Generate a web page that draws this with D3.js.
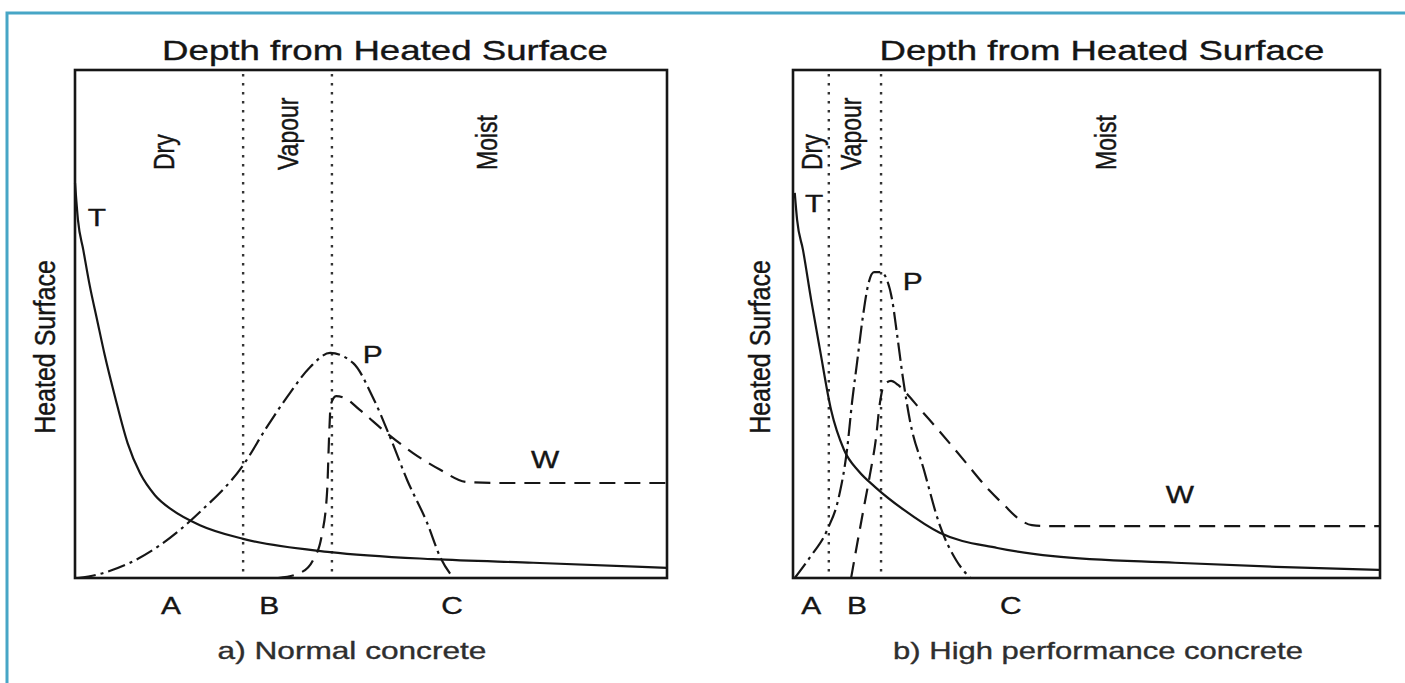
<!DOCTYPE html>
<html lang="en">
  <head>
    <meta charset="utf-8" />
    <title>Depth from Heated Surface</title>
    <script type="text/javascript" src="https://d3js.org/d3.v7.min.js"></script>
    <style>
      body { margin: 0; background: #fff; }
      text { font-family: "Liberation Sans", Arial, sans-serif; fill: #151515; stroke: #151515; stroke-width: 0.35; }
    </style>
  </head>
  <body>
    <script type="text/javascript">
      // Page size and frame
      const WIDTH = 1405;
      const HEIGHT = 683;
      const FRAME_COLOR = "#47a6c6";
      const INK = "#161616";

      // Depth (0-100 across the box) and value (0-100 up the box)
      // a) Normal concrete
      const normalT = [[0, 77.8], [0.5, 70.5], [1.4, 64.6], [2.5, 57.5], [3.7, 51.0], [5.0, 44.0],
        [6.8, 35.5], [8.9, 26.5], [11.0, 20.6], [13.5, 16.3], [16.4, 13.4], [21.1, 10.4],
        [28.4, 7.7], [43.1, 5.1], [60.5, 3.7], [77.4, 3.0], [100, 2.0]];
      const normalP = [[0.5, 0], [4.2, 0.8], [9.3, 3.0], [14.4, 6.5], [21.1, 13.0], [28.4, 22.2],
        [32.4, 29.7], [36.3, 36.4], [39.7, 41.5], [43.1, 44.3], [47.0, 42.3], [50.3, 35.6],
        [53.2, 27.8], [56.1, 19.3], [59.5, 10.8], [61.7, 4.1], [63.9, 0]];
      const normalW = [[34.3, 0], [38.0, 1.0], [40.2, 3.5], [41.7, 8.5], [42.6, 17.3], [42.9, 27.2],
        [43.2, 34.1], [44.1, 35.8], [45.6, 35.4], [48.1, 33.1], [52.7, 28.5], [57.1, 24.6],
        [61.7, 21.3], [66.2, 18.9], [71.8, 18.7], [100, 18.7]];
      const normalZones = [28.4, 43.4];

      // b) High performance concrete
      const hpcT = [[0.3, 75.8], [0.7, 70.5], [1.7, 64.6], [3.1, 54.7], [4.6, 44.9], [6.5, 33.0],
        [8.7, 25.2], [11.2, 21.0], [14.0, 17.9], [18.9, 13.4], [25.0, 8.9], [34.8, 5.9], [44.3, 4.3],
        [65.1, 3.0], [82.3, 2.2], [100, 1.6]];
      const hpcP = [[0.3, 0], [2.9, 4.1], [5.8, 9.4], [7.8, 15.9], [9.2, 25.2], [10.1, 35.0],
        [10.9, 42.3], [11.9, 51.4], [12.8, 57.7], [13.8, 60.2], [15.0, 60.2], [16.0, 58.7],
        [16.9, 54.7], [17.7, 48.2], [18.7, 39.6], [19.9, 31.1], [22.3, 21.3], [25.0, 10.4],
        [27.8, 3.5], [30.2, 0]];
      const hpcW = [[9.9, 0], [10.9, 6.5], [11.9, 12.8], [13.1, 20.3], [14.1, 27.2], [14.8, 34.4],
        [15.5, 38.0], [16.7, 38.8], [17.9, 38.0], [19.3, 36.4], [21.6, 33.3], [24.5, 29.5],
        [29.1, 23.2], [33.4, 17.3], [36.1, 14.2], [38.3, 11.8], [40.7, 10.4], [43.8, 10.2],
        [100, 10.2]];
      const hpcZones = [6.1, 15.0];

      // Labels
      const zoneNames = ["Dry", "Vapour", "Moist"];
      const normalZoneLabelX = [14.9, 36.0, 69.6];
      const hpcZoneLabelX = [3.1, 9.9, 53.2];
      const pointNames = ["A", "B", "C"];
      const normalPointX = [16.2, 32.8, 63.7];
      const hpcPointX = [3.1, 10.9, 37.1];
      const curveNames = ["T", "P", "W"];
      const normalCurveLabels = [[3.7, 70.9], [50.3, 43.9], [79.4, 23.2]];
      const hpcCurveLabels = [[3.6, 73.6], [20.4, 58.3], [65.9, 16.3]];

      const panels = [
        { left: 75, right: 667, title: "Depth from Heated Surface", titleX: 385, titleW: 446,
          caption: "a) Normal concrete", captionX: 352, captionW: 269, yLabelX: 45,
          T: normalT, P: normalP, W: normalW, zones: normalZones, zoneX: normalZoneLabelX,
          pointX: normalPointX, curveLabels: normalCurveLabels },
        { left: 793, right: 1380, title: "Depth from Heated Surface", titleX: 1102, titleW: 445,
          caption: "b) High performance concrete", captionX: 1098, captionW: 410, yLabelX: 760,
          T: hpcT, P: hpcP, W: hpcW, zones: hpcZones, zoneX: hpcZoneLabelX,
          pointX: hpcPointX, curveLabels: hpcCurveLabels }
      ];

      const TOP = 70, BOTTOM = 578;

      const svg = d3.select("body").append("svg")
        .attr("width", WIDTH).attr("height", HEIGHT);

      svg.append("rect").attr("width", WIDTH).attr("height", HEIGHT).attr("fill", "#fff");

      // teal frame, top and left only
      svg.append("path")
        .attr("d", `M7,${HEIGHT} L7,13 L${WIDTH},13`)
        .attr("fill", "none").attr("stroke", FRAME_COLOR).attr("stroke-width", 3);

      // text stretched to a target width (the picture is wider than it is tall)
      function wideText(g, str, x, y, size, targetW, color) {
        const t = g.append("text").attr("font-size", size).attr("text-anchor", "middle")
          .text(str);
        if (color) t.style("fill", color).style("stroke", color);
        const natural = t.node().getComputedTextLength();
        const sx = targetW / natural;
        t.attr("transform", `translate(${x},${y}) scale(${sx},1)`);
        return t;
      }

      function letter(g, str, x, cy, size, sx) {
        g.append("text").attr("font-size", size).attr("text-anchor", "middle")
          .attr("dy", "0.36em")
          .attr("transform", `translate(${x},${cy}) scale(${sx},1)`)
          .text(str);
      }

      panels.forEach(function (p) {
        const g = svg.append("g");
        const x = d3.scaleLinear().domain([0, 100]).range([p.left, p.right]);
        const y = d3.scaleLinear().domain([0, 100]).range([BOTTOM, TOP]);
        const line = d3.line().x(d => x(d[0])).y(d => y(d[1]))
          .curve(d3.curveMonotoneX);

        // zone boundaries
        g.selectAll(".zone").data(p.zones).enter().append("line")
          .attr("x1", d => x(d)).attr("x2", d => x(d))
          .attr("y1", y(100) + 4).attr("y2", y(0))
          .attr("stroke", "#333").attr("stroke-width", 2.4)
          .attr("stroke-dasharray", "2.4,6.6");

        // curves
        g.append("path").datum(p.T).attr("d", line)
          .attr("fill", "none").attr("stroke", INK).attr("stroke-width", 2.2);
        g.append("path").datum(p.P).attr("d", line)
          .attr("fill", "none").attr("stroke", INK).attr("stroke-width", 2.2)
          .attr("stroke-dasharray", "18,5,3,5");
        g.append("path").datum(p.W).attr("d", line)
          .attr("fill", "none").attr("stroke", INK).attr("stroke-width", 2.2)
          .attr("stroke-dasharray", "16,9");

        // box
        g.append("rect")
          .attr("x", x(0)).attr("y", y(100))
          .attr("width", x(100) - x(0)).attr("height", y(0) - y(100))
          .attr("fill", "none").attr("stroke", INK).attr("stroke-width", 2.6);

        // titles
        wideText(g, p.title, p.titleX, 60, 27, p.titleW);
        wideText(g, p.caption, p.captionX, 659, 24, p.captionW, "#2e2e2e");

        // y label
        g.append("text").attr("font-size", 25).attr("text-anchor", "middle")
          .attr("dy", "0.36em")
          .attr("transform", `translate(${p.yLabelX},347) scale(1.15,1) rotate(-90)`)
          .text("Heated Surface");

        // zone names, rotated, ending at y=170
        zoneNames.forEach(function (name, i) {
          g.append("text").attr("font-size", 23).attr("text-anchor", "start")
            .attr("dy", "0.36em")
            .attr("transform", `translate(${x(p.zoneX[i])},170) scale(1.25,1) rotate(-90)`)
            .text(name);
        });

        // A, B, C
        pointNames.forEach(function (name, i) {
          letter(g, name, x(p.pointX[i]), 606, 23, 1.3);
        });

        // T, P, W
        curveNames.forEach(function (name, i) {
          const c = p.curveLabels[i];
          letter(g, name, x(c[0]), y(c[1]), 23, 1.3);
        });
      });
    </script>
  </body>
</html>
